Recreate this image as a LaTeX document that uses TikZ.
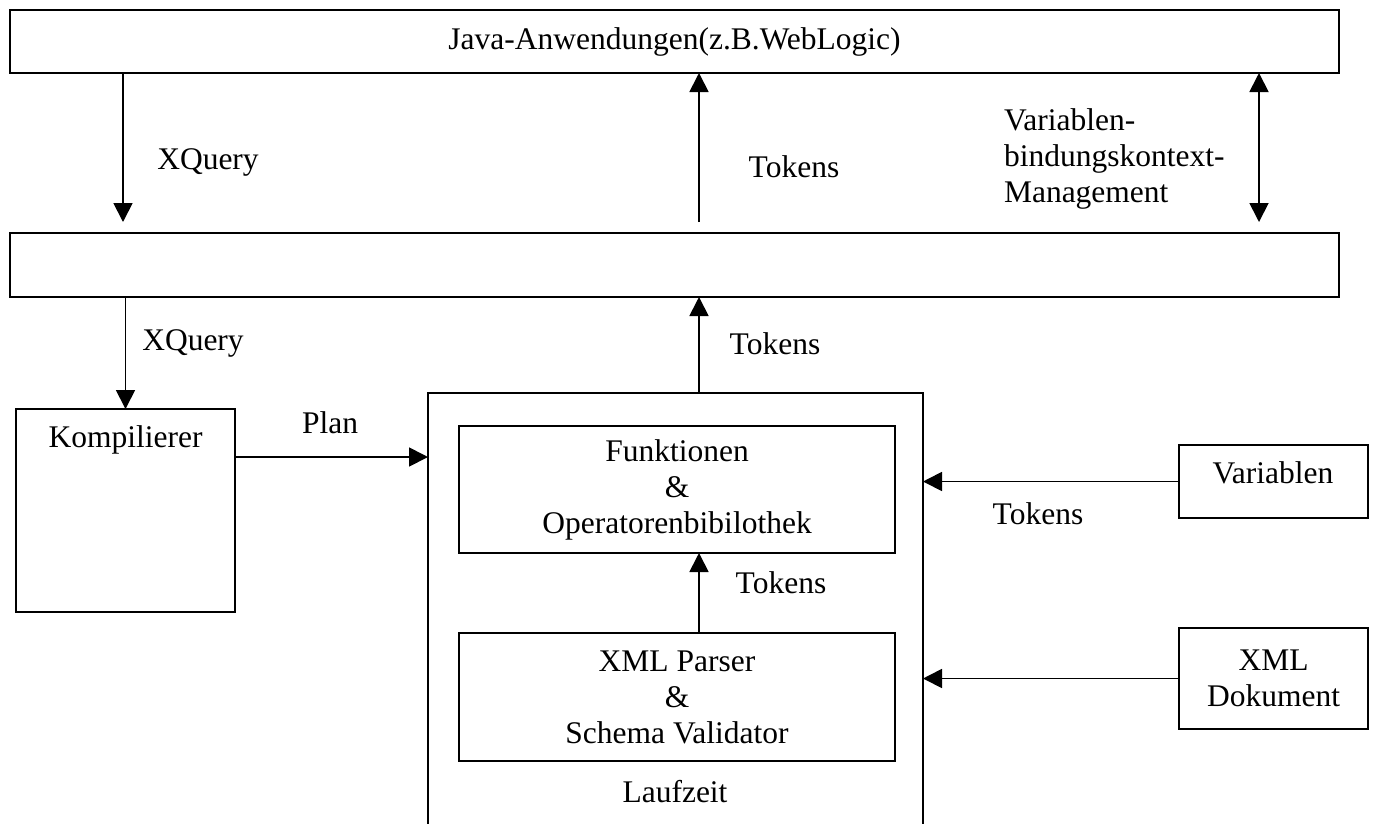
\documentclass[tikz,border=0pt]{standalone}
\usepackage{fontspec}
\setmainfont{Liberation Serif}
\usetikzlibrary{arrows.meta}
\begin{document}
\begin{tikzpicture}[x=1pt, y=-1pt, line width=1.8pt,
  every node/.style={font=\fontsize{31.5}{36}\selectfont, inner sep=0pt, outer sep=0pt},
  box/.style={draw, rectangle, anchor=north west, align=center},
  arr/.style={-{Triangle[length=19pt,width=19pt]}},
  dbl/.style={{Triangle[length=19pt,width=19pt]}-{Triangle[length=19pt,width=19pt]}}
]
\clip (0,0) rectangle (1376,823);
\fill[white] (0,0) rectangle (1376,823);

% layers
\node[box, minimum width=1329pt, minimum height=63pt] (java) at (10,10) {Java-Anwendungen(z.B.WebLogic)};
\node[box, minimum width=1329pt, minimum height=64pt] (mid) at (10,233) {};

% compiler and runtime
\node[box, minimum width=219pt, minimum height=203pt] (komp) at (16,409) {};
\node (kompt) at (125.5,440) {Kompilierer};
\node[box, minimum width=495pt, minimum height=520pt] (lauf) at (428,393) {};
\node (laufzeit) at (675,792) {Laufzeit};
\node[box, minimum width=436pt, minimum height=127pt] (funk) at (459,426) {Funktionen\\\&\\Operatorenbibilothek};
\node[box, minimum width=436pt, minimum height=128pt] (pars) at (459,633) {XML Parser\\\&\\Schema Validator};

% inputs
\node[box, minimum width=189pt, minimum height=73pt] (var) at (1179,445) {};
\node (vart) at (1273,473) {Variablen};
\node[box, minimum width=189pt, minimum height=101pt] (doc) at (1179,628) {XML\\Dokument};

% connector columns
\coordinate (xq) at (123,0);
\coordinate (xt) at (699,0);
\coordinate (xv) at (1259,0);
\coordinate (yp) at (0,457);

% connectors between the two layers
\draw[arr, shorten >=11pt] (java.south -| xq) -- (mid.north -| xq);
\draw[arr, shorten <=11pt] (mid.north -| xt) -- (java.south -| xt);
\draw[dbl, shorten >=11pt] (java.south -| xv) -- (mid.north -| xv);

% connectors below
\draw[arr] (mid.south -| komp.north) -- (komp.north);
\draw[arr] (lauf.north -| xt) -- (mid.south -| xt);
\draw[arr] (komp.east |- yp) -- (lauf.west |- yp);
\draw[arr] (pars.north -| xt) -- (funk.south -| xt);
\draw[arr] (var.west) -- (lauf.east |- var.west);
\draw[arr] (doc.west) -- (lauf.east |- doc.west);

% labels
\node (l1) at (208,162) {XQuery};
\node (l2) at (794,167) {Tokens};
\node[anchor=north west, align=left] (l3) at (1004,109) {Variablen-\\bindungskontext-\\Management};
\node (l4) at (193,343) {XQuery};
\node (l5) at (775,344) {Tokens};
\node (l6) at (330,423) {Plan};
\node (l7) at (781,583) {Tokens};
\node (l8) at (1038,514) {Tokens};
\end{tikzpicture}
\end{document}
